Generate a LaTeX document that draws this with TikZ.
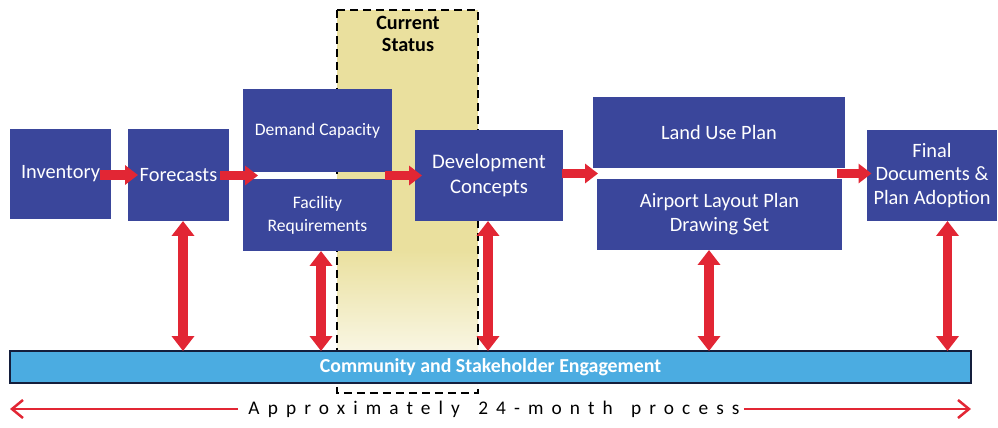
\documentclass[tikz,border=0pt]{standalone}
\usepackage{fontspec}
\setmainfont{Carlito}
\usetikzlibrary{arrows.meta,calc}
\definecolor{boxblue}{RGB}{58,70,155}
\definecolor{barblue}{RGB}{75,172,225}
\definecolor{arrred}{RGB}{226,38,52}
\definecolor{curyellow}{RGB}{234,224,158}
\definecolor{bardark}{RGB}{20,30,60}
\begin{document}
\begin{tikzpicture}[x=0.02cm,y=-0.02cm,
  box/.style={fill=boxblue, text=white, inner sep=0pt, outer sep=0pt, align=center},
  harrow/.style={draw=arrred, line width=0.19cm, -{Triangle[length=0.26cm,width=0.38cm]}},
  varrow/.style={draw=arrred, line width=0.19cm, {Triangle[length=0.3cm,width=0.44cm]}-{Triangle[length=0.3cm,width=0.44cm]}},
  thinarrow/.style={draw=arrred, line width=0.05cm, -{Straight Barb[length=0.22cm,width=0.36cm]}},
  bigtxt/.style={font=\fontsize{11.6}{13.6}\selectfont},
  smalltxt/.style={font=\fontsize{10}{13}\selectfont}
]
\useasboundingbox (0,0) rectangle (998,427);
% current status region
\fill[curyellow] (337,10) rectangle (478,250);
\shade[top color=curyellow, bottom color=white] (337,250) rectangle (478,393);
\draw[black, line width=0.04cm, dash pattern=on 0.16cm off 0.1cm] (337,10) rectangle (478,393);
\node[font=\bfseries\fontsize{11.5}{13}\selectfont, align=center] (cur) at (408,34) {Current\\Status};
% boxes
\node[box, bigtxt, minimum width=2.02cm, minimum height=1.82cm] (inv) at (60.5,174) {Inventory};
\node[box, bigtxt, minimum width=2.02cm, minimum height=1.84cm] (fc) at (178.5,175) {Forecasts};
\node[box, smalltxt, minimum width=2.98cm, minimum height=1.66cm] (dem) at (317.5,130.5) {Demand Capacity};
\node[box, smalltxt, minimum width=2.98cm, minimum height=1.44cm] (fac) at (317.5,215) {Facility\\Requirements};
\node[box, font=\fontsize{11.8}{13.8}\selectfont, minimum width=2.96cm, minimum height=1.82cm] (dev) at (489,175.5) {Development\\Concepts};
\node[box, bigtxt, minimum width=5.04cm, minimum height=1.42cm] (land) at (719,132.5) {Land Use Plan};
\node[box, bigtxt, minimum width=4.9cm, minimum height=1.42cm] (air) at (719.5,214.5) {Airport Layout Plan\\Drawing Set};
\node[box, bigtxt, minimum width=2.62cm, minimum height=1.82cm] (fin) at (932,175.5) {Final\\Documents \&\\Plan Adoption};
% engagement bar
\node[fill=barblue, draw=bardark, line width=0.03cm, text=white, inner sep=0pt, outer sep=0pt,
      minimum width=19.22cm, minimum height=0.64cm, font=\bfseries\fontsize{11.3}{13}\selectfont] (bar) at (490.5,367) {Community and Stakeholder Engagement};
% gap coordinates
\coordinate (g1) at ($(dem.south west)!0.5!(fac.north west)$);
\coordinate (g2) at ($(land.south west)!0.5!(air.north west)$);
\coordinate (g3) at ($(land.south east)!0.5!(air.north east)$);
% horizontal arrows
\draw[harrow, shorten <=-0.22cm, shorten >=-0.2cm] (inv.east |- fc.west) -- (fc.west);
\draw[harrow, shorten <=-0.18cm, shorten >=-0.3cm] (fc.east |- g1) -- (g1);
\draw[harrow, shorten <=-0.14cm, shorten >=-0.14cm] (g1 -| dem.east) -- (dev.west |- g1);
\draw[harrow, shorten <=-0.02cm, shorten >=-0.06cm] (dev.east |- g2) -- (g2);
\draw[harrow, shorten <=-0.13cm, shorten >=-0.1cm] (g3) -- (fin.west |- g3);
% vertical double arrows
\coordinate (v1) at ([xshift=0.09cm]fc.south);
\coordinate (v2) at ([xshift=0.07cm]fac.south);
\coordinate (v3) at ([xshift=-0.02cm]dev.south);
\coordinate (v4) at ([xshift=-0.21cm]air.south);
\coordinate (v5) at ([xshift=0.31cm]fin.south);
\draw[varrow] (v1) -- (v1 |- bar.north);
\draw[varrow] (v2) -- (v2 |- bar.north);
\draw[varrow] (v3) -- (v3 |- bar.north);
\draw[varrow] (v4) -- (v4 |- bar.north);
\draw[varrow] (v5) -- (v5 |- bar.north);
% timeline
\node[inner sep=0pt, font=\fontsize{11}{13}\selectfont\addfontfeature{LetterSpace=42}] (proc) at (494,409) {Approximately \hspace{0.3em}24-month \hspace{0.3em}process};
\coordinate (le) at (10,409);
\coordinate (re) at (971,409);
\draw[thinarrow, shorten <=0.2cm] (proc.west) -- (le);
\draw[thinarrow, shorten <=0.08cm] (proc.east) -- (re);
\end{tikzpicture}
\end{document}
